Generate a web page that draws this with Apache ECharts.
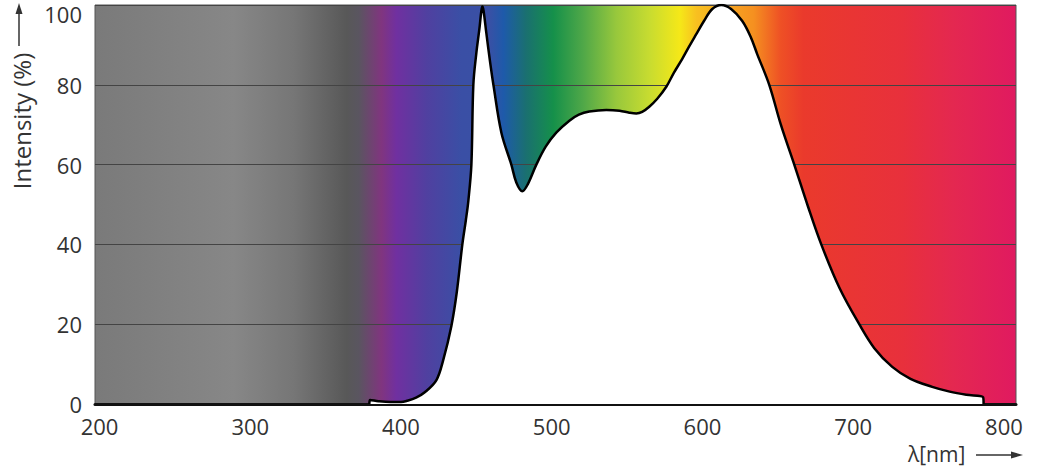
<!DOCTYPE html>
<html>
<head>
<meta charset="utf-8">
<title>Spectrum</title>
<script src="https://cdn.jsdelivr.net/npm/echarts@6/dist/echarts.min.js"></script>
<style>
  html, body { margin: 0; padding: 0; background: #fff; }
  #chart { width: 1052px; height: 469px; }
</style>
</head>
<body>
<div id="chart"></div>
<script>
// wavelength (nm) and relative intensity (%)
const wavelengths = [
  379, 379.5, 385, 393, 400, 404, 410, 416, 423.5, 428, 433.4, 437, 440.7, 443,
  444.7, 446.7, 448, 450, 452, 453.3, 454, 454.8, 456.6, 459, 461.3, 466.6, 473.2, 476.5,
  480.5, 484, 489.8, 496, 503, 511.7, 518, 524.9, 536.2, 545, 551.5, 556.1,
  560, 564.7, 570, 576, 581, 586.6, 591, 595.9, 601, 606.5, 612.5, 619, 626.4,
  632, 636.3, 644.3, 652, 660.9, 670, 678.8, 691, 704, 714, 725.9, 738, 752.4,
  764, 775, 786.2, 786.5
]
const intensity = [
  0, 1, 0.7, 0.5, 0.5, 0.8, 1.6, 3, 6, 11, 19.5, 28, 40, 46,
  51, 60, 80, 88, 94, 98.5, 99.6, 98.5, 93, 86, 80, 68, 60, 55.5,
  53.3, 55, 60, 64.5, 68, 71, 72.5, 73.3, 73.7, 73.5, 73, 72.8,
  73.2, 74.5, 76.5, 79.5, 83, 86.5, 89.5, 92.7, 96, 99, 100, 99, 96,
  92, 87.7, 80, 70, 60, 49.5, 40, 29, 20, 14, 9.3, 6.3, 4.3,
  3.1, 2.3, 1.7, 0
]
const yTicks = [0, 20, 40, 60, 80, 100]

// background colour bands along the wavelength axis
const bandNm = [197, 289, 329, 364, 372, 387, 397, 417, 440, 458, 468, 483, 501,
  521, 543, 565, 585, 596, 634, 652, 667, 733, 766, 808]
const bandColors = ['#7a7a7a', '#878787', '#767676', '#585858', '#5a5560', '#80357f',
  '#7030a0', '#5040a0', '#3a4fa5', '#3a50a5', '#1e5aaa', '#1a7070', '#15904a',
  '#50a848', '#98c83c', '#c8dc30', '#f5e818', '#f8c020', '#f59020', '#ee5025',
  '#ea3a2c', '#e8303c', '#e42850', '#e01a60']

const xMin = 197
const xMax = 808

const stops = bandNm.map((nm, i) => ({
  offset: (nm - xMin) / (xMax - xMin),
  color: bandColors[i],
}))

const font = "'Open Sans', 'Noto Sans', sans-serif"

const option = {
  animation: false,
  grid: {
    left: 95,
    right: 36,
    top: 5,
    bottom: 65,
    show: true,
    borderColor: '#555',
    borderWidth: 1,
    backgroundColor: new echarts.graphic.LinearGradient(0, 0, 1, 0, stops),
  },
  xAxis: {
    type: 'value',
    min: xMin,
    max: xMax,
    splitNumber: 6,
    axisLine: { show: true, onZero: false, lineStyle: { color: '#111', width: 3 } },
    axisTick: { show: false },
    splitLine: { show: false },
    axisLabel: {
      showMinLabel: false,
      showMaxLabel: false,
      color: '#333',
      fontSize: 22,
      fontFamily: font,
      margin: 11,
    },
  },
  yAxis: {
    type: 'value',
    min: yTicks[0],
    max: yTicks[yTicks.length - 1],
    interval: 20,
    axisLine: { show: false },
    axisTick: { show: false },
    splitLine: { show: true, lineStyle: { color: '#444', width: 1 } },
    axisLabel: {
      color: '#333',
      fontSize: 22,
      fontFamily: font,
      margin: 13,
      formatter: (v) => (v === 100 ? '{top|100}' : String(v)),
      rich: {
        top: { fontSize: 22, fontFamily: font, color: '#333', padding: [18, 0, 0, 0] },
      },
    },
  },
  series: [
    {
      type: 'line',
      data: wavelengths.map((nm, i) => [nm, intensity[i]]),
      smooth: 0.35,
      showSymbol: false,
      lineStyle: { color: '#000', width: 2.5 },
      areaStyle: { color: '#fff', opacity: 1 },
      z: 3,
    },
  ],
  graphic: [
    {
      type: 'text',
      x: 21,
      y: 121,
      rotation: Math.PI / 2,
      style: {
        text: 'Intensity (%)',
        fill: '#333',
        font: "24px 'Open Sans', 'Noto Sans', sans-serif",
        align: 'center',
        verticalAlign: 'middle',
      },
    },
    { type: 'line', shape: { x1: 19, y1: 46, x2: 19, y2: 12 }, style: { stroke: '#333', lineWidth: 1.5 } },
    { type: 'polygon', shape: { points: [[19, 3], [15.5, 14], [22.5, 14]] }, style: { fill: '#333' } },
    {
      type: 'text',
      x: 908,
      y: 454,
      style: {
        text: 'λ[nm]',
        fill: '#333',
        font: "21px 'Open Sans', 'Noto Sans', sans-serif",
        align: 'left',
        verticalAlign: 'middle',
      },
    },
    { type: 'line', shape: { x1: 976, y1: 455, x2: 1012, y2: 455 }, style: { stroke: '#333', lineWidth: 1.5 } },
    { type: 'polygon', shape: { points: [[1023, 455], [1011, 451.5], [1011, 458.5]] }, style: { fill: '#333' } },
  ],
}

const chart = echarts.init(document.getElementById('chart'), null, { renderer: 'svg' })
chart.setOption(option)
</script>
</body>
</html>
